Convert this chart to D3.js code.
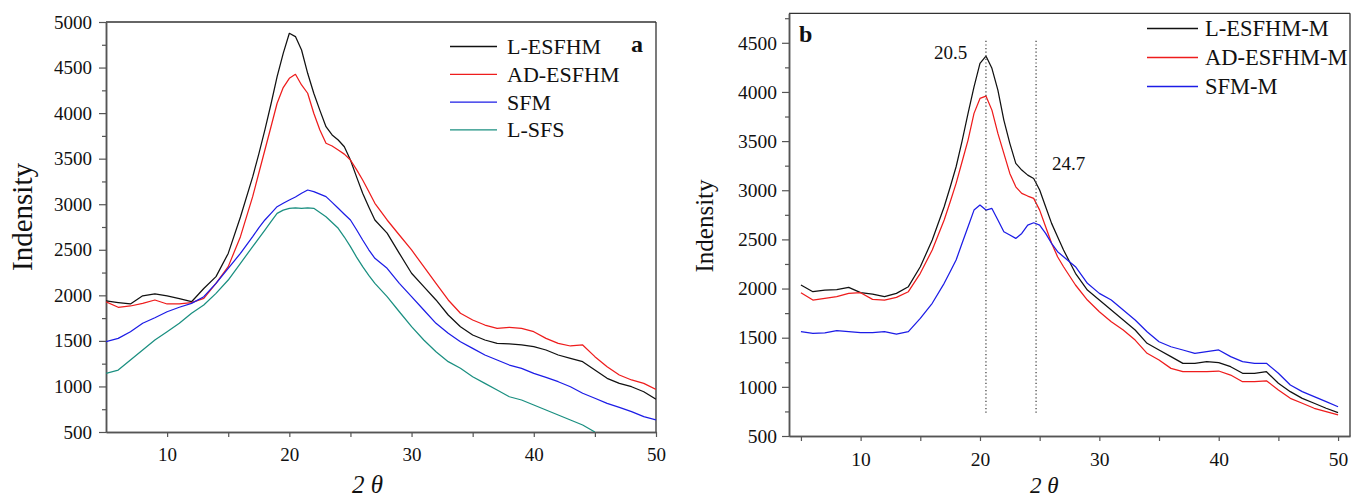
<!DOCTYPE html>
<html><head><meta charset="utf-8">
<script src="https://cdn.jsdelivr.net/npm/d3@7/dist/d3.min.js"></script>
<style>
body{margin:0;background:#fff}
svg{display:block}
text{font-family:"Liberation Serif","Times New Roman",serif;fill:#111}
</style>
</head><body>
<svg id="c" width="1351" height="502"></svg>
<script>
// 2θ grid (degrees)
const twoTheta = [5,6,7,8,9,10,11,12,13,14,15,16,17,
  17.5,18,18.5,19,19.5,20,20.5,21,21.5,22,22.5,23,23.5,24,24.5,25,25.5,26,26.5,27,
  28,29,30,31,32,33,34,35,36,37,38,39,40,41,42,43,44,45,46,47,48,49,50];

// Panel a
const aNames = ["L-ESFHM","AD-ESFHM","SFM","L-SFS"];
const aColors = ["#111111","#ee1c1c","#1c1ce6","#1a8f80"];
const aLESFHM = [1938,1920,1905,1995,2015,1995,1965,1930,2075,2205,2460,2860,3300,
  3550,3815,4100,4400,4656,4876,4840,4693,4437,4218,4030,3851,3760,3705,3631,3485,3300,3120,2970,2827,
  2683,2461,2242,2095,1949,1784,1656,1565,1510,1473,1466,1455,1436,1400,1345,1309,1272,1180,1089,1034,997,942,859];
const aADESFHM = [1930,1869,1883,1912,1949,1905,1905,1919,1967,2132,2315,2644,3083,
  3340,3595,3850,4108,4280,4382,4426,4309,4218,3998,3815,3669,3639,3595,3550,3485,3380,3266,3140,3010,
  2827,2662,2498,2315,2132,1949,1803,1729,1674,1638,1649,1638,1601,1528,1473,1444,1455,1327,1217,1126,1071,1034,968];
const aSFM = [1491,1528,1601,1693,1754,1820,1869,1912,1985,2132,2297,2461,2644,
  2740,2827,2900,2973,3010,3046,3080,3120,3156,3138,3110,3083,3020,2955,2890,2827,2720,2607,2500,2406,
  2297,2132,1985,1839,1693,1583,1491,1418,1345,1290,1235,1199,1144,1100,1052,997,925,870,815,771,723,668,632];
const aLSFS = [1144,1180,1290,1400,1510,1601,1693,1803,1894,2022,2168,2352,2534,
  2625,2717,2810,2900,2935,2955,2960,2955,2960,2955,2910,2863,2800,2736,2640,2534,2420,2315,2220,2132,
  1985,1820,1656,1510,1381,1272,1199,1107,1034,961,887,851,796,741,687,632,577,500,null,null,null,null,null];

// Panel b
const bNames = ["L-ESFHM-M","AD-ESFHM-M","SFM-M"];
const bColors = ["#111111","#ee1c1c","#1c1ce6"];
const bLESFHMM = [2036,1968,1985,1990,2012,1958,1944,1917,1951,2019,2222,2493,2832,
  3030,3239,3500,3782,4052,4290,4365,4240,4019,3714,3477,3273,3205,3154,3120,3002,2832,2663,2527,2392,
  2155,1985,1883,1781,1680,1578,1443,1375,1307,1239,1239,1256,1246,1205,1138,1138,1154,1036,951,883,833,782,737];
const bADESFHMM = [1958,1883,1900,1917,1951,1958,1890,1883,1910,1968,2155,2392,2697,
  2880,3070,3290,3510,3782,3934,3958,3815,3578,3375,3171,3035,2968,2941,2917,2798,2629,2460,2324,2222,
  2036,1883,1764,1662,1578,1476,1341,1273,1188,1154,1154,1154,1161,1120,1052,1052,1062,968,883,833,782,747,714];
const bSFMM = [1561,1544,1550,1571,1561,1551,1551,1561,1537,1561,1697,1850,2053,
  2170,2290,2460,2629,2798,2849,2798,2815,2697,2578,2544,2510,2561,2646,2669,2646,2561,2460,2375,2324,
  2222,2053,1951,1883,1781,1680,1561,1459,1408,1375,1341,1358,1375,1307,1256,1239,1239,1138,1019,951,900,849,798];

const aXTicks = [10,20,30,40,50], aXMinor = [15,25,35,45];
const aYTicks = [500,1000,1500,2000,2500,3000,3500,4000,4500,5000];
const aYMinor = [750,1250,1750,2250,2750,3250,3750,4250,4750];
const bXTicks = [10,20,30,40,50], bXMinor = [5,15,25,35,45];
const bYTicks = [500,1000,1500,2000,2500,3000,3500,4000,4500];
const bYMinor = [750,1250,1750,2250,2750,3250,3750,4250,4750];
const peakMarks = [20.5, 24.7];
const peakLabels = ["20.5","24.7"];
const yTitle = "Indensity";

const svg = d3.select("#c");

function panel(cfg){
  const x = d3.scaleLinear().domain(cfg.xd).range([cfg.l, cfg.r]);
  const y = d3.scaleLinear().domain(cfg.yd).range([cfg.b, cfg.t]);
  const g = svg.append("g");
  const clipId = "clip"+cfg.id;
  svg.append("clipPath").attr("id", clipId).append("rect")
    .attr("x", cfg.l).attr("y", cfg.t).attr("width", cfg.r-cfg.l).attr("height", cfg.b-cfg.t);

  // frame top/right
  g.append("line").attr("x1",cfg.l).attr("x2",cfg.r).attr("y1",cfg.t).attr("y2",cfg.t)
    .attr("stroke","#333").attr("stroke-width",1.3);
  g.append("line").attr("x1",cfg.r).attr("x2",cfg.r).attr("y1",cfg.t).attr("y2",cfg.b)
    .attr("stroke","#333").attr("stroke-width",1.3);

  // axes
  const fs = cfg.tickFont;
  const xa = g.append("g").attr("transform",`translate(0,${cfg.b})`)
    .call(d3.axisBottom(x).tickValues(cfg.xt).tickFormat(d3.format("d")).tickSize(5).tickPadding(cfg.xpad).tickSizeOuter(0));
  const xm = g.append("g").attr("transform",`translate(0,${cfg.b})`)
    .call(d3.axisBottom(x).tickValues(cfg.xm).tickFormat("").tickSize(5).tickSizeOuter(0));
  const ya = g.append("g").attr("transform",`translate(${cfg.l},0)`)
    .call(d3.axisLeft(y).tickValues(cfg.yt).tickFormat(d3.format("d")).tickSize(7).tickPadding(cfg.ypad).tickSizeOuter(0));
  const ym = g.append("g").attr("transform",`translate(${cfg.l},0)`)
    .call(d3.axisLeft(y).tickValues(cfg.ym).tickFormat("").tickSize(4).tickSizeOuter(0));
  [xa,xm,ya,ym].forEach(a=>{
    a.select(".domain").attr("stroke","#555").attr("stroke-width",1.5);
    a.selectAll(".tick line").attr("stroke","#555").attr("stroke-width",1.2);
    a.selectAll("text").attr("font-size",fs).attr("font-family","Liberation Serif, serif").attr("fill","#222");
  });

  // lines
  const line = d3.line().defined(d=>d[1]!=null).x(d=>x(d[0])).y(d=>y(d[1]));
  const lg = g.append("g").attr("clip-path",`url(#${clipId})`);
  cfg.series.forEach((s,i)=>{
    lg.append("path").datum(twoTheta.map((t,j)=>[t,s[j]]))
      .attr("d",line).attr("fill","none").attr("stroke",cfg.colors[i]).attr("stroke-width",1.25)
      .attr("stroke-linejoin","round");
  });

  // legend
  cfg.names.forEach((n,i)=>{
    const by = cfg.legY + i*cfg.legStep;
    g.append("line").attr("x1",cfg.legX1).attr("x2",cfg.legX2).attr("y1",by-7.5).attr("y2",by-7.5)
      .attr("stroke",cfg.colors[i]).attr("stroke-width",1.3);
    g.append("text").attr("x",cfg.legTX).attr("y",by).attr("font-size",cfg.legFont).text(n);
  });

  // panel letter
  g.append("text").attr("x",cfg.letX).attr("y",cfg.letY).attr("font-size",24)
    .attr("font-weight","bold").text(cfg.letter);

  // titles
  g.append("text").attr("transform",`translate(${cfg.ytX},${cfg.ytY}) rotate(-90)`)
    .attr("text-anchor","middle").attr("font-size",cfg.ytFont).text(yTitle);
  const xt = g.append("text").attr("x",cfg.xtX).attr("y",493).attr("font-size",cfg.xtFont)
    .attr("font-style","italic");
  xt.append("tspan").text("2 ");
  xt.append("tspan").text("θ");
  return {x,y,g};
}

const A = panel({id:"a", l:106, r:656, t:22, b:432, xd:[5,50], yd:[500,5000],
  xt:aXTicks, xm:aXMinor, yt:aYTicks, ym:aYMinor, xpad:11, ypad:7, tickFont:19,
  series:[aLESFHM,aADESFHM,aSFM,aLSFS], names:aNames, colors:aColors,
  legY:54, legStep:27.8, legX1:450, legX2:497, legTX:507, legFont:22,
  letter:"a", letX:631, letY:52, ytX:32, ytY:217, ytFont:29, xtX:352, xtFont:25});

const B = panel({id:"b", l:789, r:1350, t:13.3, b:436, xd:[4,51], yd:[500,4800],
  xt:bXTicks, xm:bXMinor, yt:bYTicks, ym:bYMinor, xpad:11.5, ypad:5, tickFont:19.5,
  series:[bLESFHMM,bADESFHMM,bSFMM], names:bNames, colors:bColors,
  legY:36, legStep:29, legX1:1147, legX2:1198, legTX:1205, legFont:22.5,
  letter:"b", letX:799, letY:42, ytX:713, ytY:226, ytFont:25, xtX:1030, xtFont:23});

// dotted peak markers in panel b
peakMarks.forEach((p,i)=>{
  B.g.append("line").attr("x1",B.x(p)).attr("x2",B.x(p)).attr("y1",B.y(4520)).attr("y2",B.y(730))
    .attr("stroke","#555").attr("stroke-width",1.4).attr("stroke-dasharray","1.2,2.4");
});
B.g.append("text").attr("x",B.x(peakMarks[0])-52).attr("y",58.5).attr("font-size",19)
  .attr("font-family","Liberation Sans, Arial, sans-serif").text(peakLabels[0]);
B.g.append("text").attr("x",B.x(peakMarks[1])+16).attr("y",170).attr("font-size",19)
  .attr("font-family","Liberation Sans, Arial, sans-serif").text(peakLabels[1]);
</script>
</body></html>
